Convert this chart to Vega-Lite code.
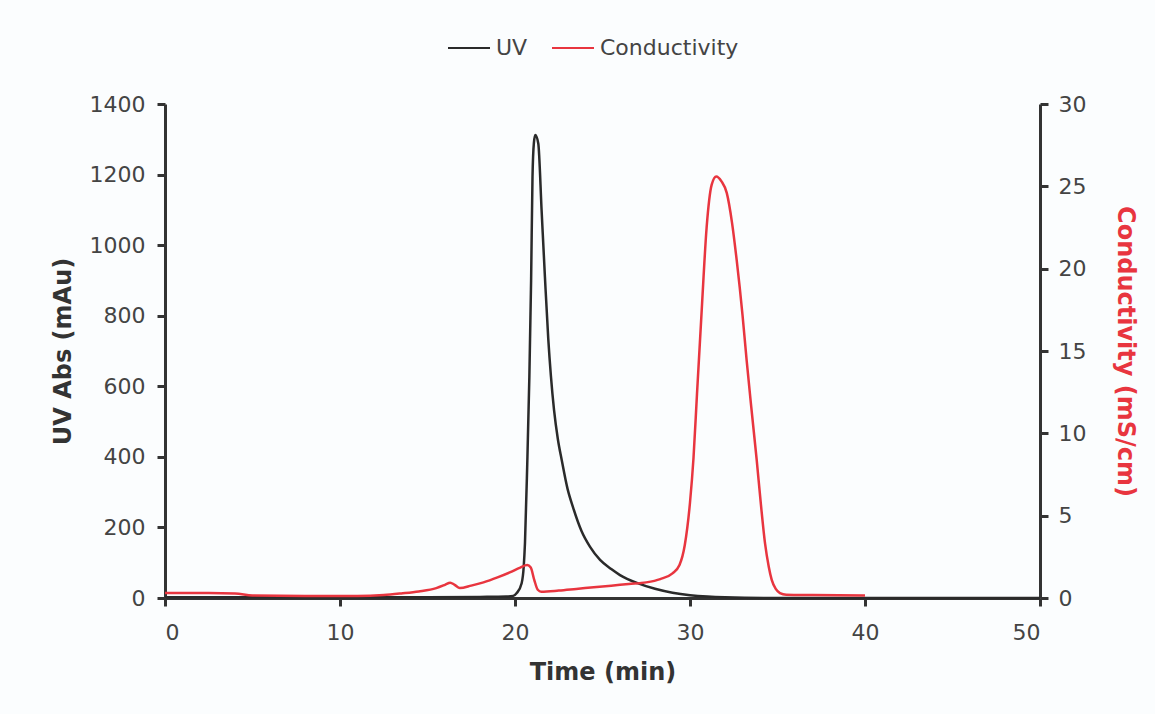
{
  "$schema": "https://vega.github.io/schema/vega-lite/v6.json",
  "autosize": "none",
  "width": 875,
  "height": 494,
  "padding": {"left": 165, "top": 104, "right": 115, "bottom": 116},
  "background": "#fbfdfe",
  "config": {
    "view": {"stroke": null},
    "font": "DejaVu Sans",
    "axis": {
      "grid": false,
      "domainColor": "#333333",
      "domainWidth": 3,
      "tickColor": "#333333",
      "tickWidth": 3,
      "tickSize": 8,
      "labelFont": "DejaVu Sans",
      "labelFontSize": 22,
      "labelColor": "#444444",
      "format": "d",
      "titleFont": "DejaVu Sans",
      "titleFontSize": 24,
      "titleFontWeight": "bold",
      "titleColor": "#333333"
    }
  },
  "datasets": {
    "uv": [
      {"t": 0, "v": 2, "s": "UV"}, {"t": 5, "v": 2, "s": "UV"}, {"t": 10, "v": 2, "s": "UV"}, {"t": 15, "v": 2, "s": "UV"}, {"t": 18, "v": 3, "s": "UV"},
      {"t": 19.5, "v": 4, "s": "UV"}, {"t": 19.9, "v": 6, "s": "UV"}, {"t": 20.1, "v": 14, "s": "UV"}, {"t": 20.38, "v": 42, "s": "UV"},
      {"t": 20.5, "v": 90, "s": "UV"}, {"t": 20.57, "v": 156, "s": "UV"}, {"t": 20.7, "v": 380, "s": "UV"}, {"t": 20.82, "v": 626, "s": "UV"},
      {"t": 20.92, "v": 900, "s": "UV"}, {"t": 21.0, "v": 1193, "s": "UV"}, {"t": 21.08, "v": 1290, "s": "UV"}, {"t": 21.16, "v": 1312, "s": "UV"},
      {"t": 21.33, "v": 1288, "s": "UV"}, {"t": 21.52, "v": 1099, "s": "UV"}, {"t": 21.71, "v": 910, "s": "UV"}, {"t": 21.9, "v": 735, "s": "UV"},
      {"t": 22.05, "v": 630, "s": "UV"}, {"t": 22.23, "v": 533, "s": "UV"}, {"t": 22.45, "v": 450, "s": "UV"}, {"t": 22.67, "v": 391, "s": "UV"},
      {"t": 23.0, "v": 310, "s": "UV"}, {"t": 23.33, "v": 255, "s": "UV"}, {"t": 23.8, "v": 190, "s": "UV"}, {"t": 24.29, "v": 145, "s": "UV"},
      {"t": 24.86, "v": 108, "s": "UV"}, {"t": 25.5, "v": 82, "s": "UV"}, {"t": 26, "v": 65, "s": "UV"}, {"t": 27, "v": 42, "s": "UV"},
      {"t": 28, "v": 26, "s": "UV"}, {"t": 29, "v": 15, "s": "UV"}, {"t": 30, "v": 8, "s": "UV"}, {"t": 31, "v": 4, "s": "UV"}, {"t": 32, "v": 2, "s": "UV"},
      {"t": 35, "v": 0, "s": "UV"}, {"t": 40, "v": 0, "s": "UV"}, {"t": 45, "v": 0, "s": "UV"}, {"t": 50, "v": 0, "s": "UV"}
    ],
    "cond": [
      {"t": 0, "v": 0.3, "s": "Conductivity"}, {"t": 2, "v": 0.3, "s": "Conductivity"}, {"t": 4, "v": 0.28, "s": "Conductivity"}, {"t": 5, "v": 0.15, "s": "Conductivity"}, {"t": 8, "v": 0.12, "s": "Conductivity"},
      {"t": 11, "v": 0.12, "s": "Conductivity"}, {"t": 12.5, "v": 0.18, "s": "Conductivity"}, {"t": 13.5, "v": 0.28, "s": "Conductivity"}, {"t": 14.5, "v": 0.4, "s": "Conductivity"},
      {"t": 15.5, "v": 0.6, "s": "Conductivity"}, {"t": 16.0, "v": 0.8, "s": "Conductivity"}, {"t": 16.3, "v": 0.93, "s": "Conductivity"}, {"t": 16.55, "v": 0.8, "s": "Conductivity"},
      {"t": 16.85, "v": 0.6, "s": "Conductivity"}, {"t": 17.5, "v": 0.75, "s": "Conductivity"}, {"t": 18.2, "v": 0.95, "s": "Conductivity"}, {"t": 19.0, "v": 1.25, "s": "Conductivity"},
      {"t": 19.7, "v": 1.55, "s": "Conductivity"}, {"t": 20.3, "v": 1.85, "s": "Conductivity"}, {"t": 20.7, "v": 2.0, "s": "Conductivity"}, {"t": 20.9, "v": 1.85, "s": "Conductivity"},
      {"t": 21.1, "v": 1.1, "s": "Conductivity"}, {"t": 21.3, "v": 0.5, "s": "Conductivity"}, {"t": 21.5, "v": 0.38, "s": "Conductivity"}, {"t": 22.5, "v": 0.45, "s": "Conductivity"},
      {"t": 23.5, "v": 0.55, "s": "Conductivity"}, {"t": 24.5, "v": 0.65, "s": "Conductivity"}, {"t": 25.5, "v": 0.75, "s": "Conductivity"}, {"t": 26.5, "v": 0.85, "s": "Conductivity"},
      {"t": 27.5, "v": 0.95, "s": "Conductivity"}, {"t": 28.3, "v": 1.15, "s": "Conductivity"}, {"t": 29.0, "v": 1.5, "s": "Conductivity"}, {"t": 29.4, "v": 2.0, "s": "Conductivity"},
      {"t": 29.7, "v": 3.2, "s": "Conductivity"}, {"t": 30.0, "v": 5.8, "s": "Conductivity"}, {"t": 30.2, "v": 8.5, "s": "Conductivity"}, {"t": 30.4, "v": 12.4, "s": "Conductivity"},
      {"t": 30.67, "v": 17.5, "s": "Conductivity"}, {"t": 30.95, "v": 22.5, "s": "Conductivity"}, {"t": 31.24, "v": 25.1, "s": "Conductivity"}, {"t": 31.5, "v": 25.6, "s": "Conductivity"},
      {"t": 31.8, "v": 25.3, "s": "Conductivity"}, {"t": 32.1, "v": 24.6, "s": "Conductivity"}, {"t": 32.4, "v": 22.8, "s": "Conductivity"}, {"t": 32.67, "v": 20.5, "s": "Conductivity"},
      {"t": 33.0, "v": 17.2, "s": "Conductivity"}, {"t": 33.24, "v": 14.4, "s": "Conductivity"}, {"t": 33.5, "v": 11.6, "s": "Conductivity"}, {"t": 33.81, "v": 8.4, "s": "Conductivity"},
      {"t": 34.05, "v": 5.7, "s": "Conductivity"}, {"t": 34.29, "v": 3.3, "s": "Conductivity"}, {"t": 34.5, "v": 1.9, "s": "Conductivity"}, {"t": 34.67, "v": 1.1, "s": "Conductivity"},
      {"t": 34.9, "v": 0.55, "s": "Conductivity"}, {"t": 35.14, "v": 0.3, "s": "Conductivity"}, {"t": 35.5, "v": 0.2, "s": "Conductivity"}, {"t": 37, "v": 0.18, "s": "Conductivity"},
      {"t": 40, "v": 0.15, "s": "Conductivity"}
    ]
  },
  "layer": [
    {
      "data": {"name": "uv"},
      "mark": {"type": "line", "strokeWidth": 2.5, "interpolate": "monotone"},
      "encoding": {
        "x": {
          "field": "t", "type": "quantitative",
          "scale": {"domain": [0, 50], "nice": false},
          "axis": {"title": "Time (min)", "values": [0, 10, 20, 30, 40, 50], "labelPadding": 16, "titlePadding": 17}
        },
        "y": {
          "field": "v", "type": "quantitative",
          "scale": {"domain": [0, 1400], "nice": false},
          "axis": {"title": "UV Abs (mAu)", "orient": "left", "values": [0, 200, 400, 600, 800, 1000, 1200, 1400], "labelPadding": 12, "titlePadding": 14}
        },
        "color": {
          "field": "s", "type": "nominal",
          "scale": {"domain": ["UV", "Conductivity"], "range": ["#2a2a2a", "#e8353f"]},
          "legend": {
            "title": null,
            "orient": "none",
            "direction": "horizontal",
            "legendX": 282,
            "legendY": -78,
            "symbolType": "stroke",
            "symbolSize": 1764,
            "symbolStrokeWidth": 2,
            "labelFont": "DejaVu Sans",
            "labelFontSize": 22,
            "labelColor": "#444444",
            "labelOffset": 5,
            "columnPadding": 20
          }
        }
      }
    },
    {
      "data": {"name": "cond"},
      "mark": {"type": "line", "strokeWidth": 2.5, "interpolate": "monotone"},
      "encoding": {
        "x": {"field": "t", "type": "quantitative"},
        "y": {
          "field": "v", "type": "quantitative",
          "scale": {"domain": [0, 30], "nice": false},
          "axis": {"title": "Conductivity  (mS/cm)", "orient": "right", "values": [0, 5, 10, 15, 20, 25, 30], "labelPadding": 10, "titlePadding": 27, "titleColor": "#e8353f"}
        },
        "color": {"field": "s", "type": "nominal"}
      }
    }
  ],
  "resolve": {"scale": {"y": "independent"}}
}
